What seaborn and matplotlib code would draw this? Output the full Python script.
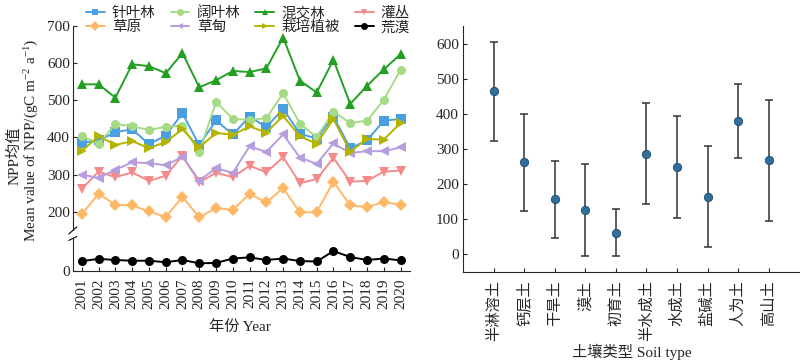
import numpy as np
import pandas as pd
import matplotlib
matplotlib.use("Agg")
import matplotlib.pyplot as plt
import seaborn as sns
from matplotlib.lines import Line2D

# === Data: NPP by vegetation type, 2001-2020 ===
years = list(range(2001, 2021))
conifer = [385, 392, 414, 422, 382, 405, 465, 379, 446, 408, 456, 428, 477, 410, 397, 456, 371, 392, 445, 450]
broadleaf = [404, 383, 436, 430, 420, 429, 431, 360, 496, 450, 447, 452, 519, 437, 401, 469, 439, 445, 501, 582]
mixed = [543, 543, 507, 597, 592, 573, 627, 535, 554, 579, 576, 586, 669, 553, 521, 609, 490, 539, 583, 624]
shrub = [262, 308, 293, 306, 283, 297, 351, 279, 305, 293, 324, 306, 347, 277, 288, 345, 281, 283, 308, 311]
steppe = [194, 248, 219, 217, 201, 186, 240, 185, 210, 205, 248, 225, 264, 198, 199, 281, 217, 213, 226, 219]
meadow = [300, 291, 313, 333, 331, 325, 348, 284, 317, 305, 376, 361, 408, 346, 329, 384, 358, 363, 363, 373]
cultivated = [364, 403, 380, 390, 371, 388, 422, 373, 412, 407, 430, 413, 458, 403, 383, 449, 362, 396, 394, 439]
desert = [27, 33, 30, 28, 28, 24, 30, 21, 22, 34, 37, 30, 34, 27, 26, 54, 38, 30, 34, 29]

veg_names = ['针叶林', '阔叶林', '混交林', '灌丛', '草原', '草甸', '栽培植被', '荒漠']
veg_colors = ['#4a9fe3', '#a6db86', '#23a023', '#f58a8a', '#ffb865', '#b69ddf', '#b4b400', '#000000']
veg_markers = ['s', 'o', '^', 'v', 'D', '<', '>', 'o']

# === Data: NPP by soil type (mean +/- sd) ===
soil_types = ['半淋溶土', '钙层土', '干旱土', '漠土', '初育土', '半水成土', '水成土', '盐碱土', '人为土', '高山土']
soil_mean = [465, 262, 157, 127, 62, 287, 249, 165, 380, 268]
soil_sd = [141, 138, 110, 130, 67, 143, 145, 145, 104, 172]

# === Long table for seaborn ===
series = [conifer, broadleaf, mixed, shrub, steppe, meadow, cultivated, desert]
rows = []
for name, vals in zip(veg_names, series):
    for y, v in zip(years, vals):
        rows.append({'Year': y, 'NPP': v, 'Type': name})
df = pd.DataFrame(rows)
palette = dict(zip(veg_names, veg_colors))
markers = dict(zip(veg_names, veg_markers))

sns.set_style("ticks")
plt.rcParams['font.family'] = ['Liberation Serif', 'Noto Sans CJK SC']
plt.rcParams['mathtext.fontset'] = 'custom'
plt.rcParams['mathtext.rm'] = 'Liberation Serif'
plt.rcParams['mathtext.it'] = 'Liberation Serif:italic'
plt.rcParams['font.size'] = 11

fig = plt.figure(figsize=(8, 3.61), dpi=100)
ax_top = fig.add_axes([0.091, 0.363, 0.421, 0.565])
ax_bot = fig.add_axes([0.091, 0.249, 0.421, 0.0914])
ax_r = fig.add_axes([0.579, 0.2465, 0.42, 0.681])

# === Left: broken-axis line chart ===
upper = df[df['Type'] != '荒漠']
lower = df[df['Type'] == '荒漠']
sns.lineplot(data=upper, x='Year', y='NPP', hue='Type', style='Type', palette=palette,
             markers=markers, dashes=False, markersize=6.5, markeredgewidth=0,
             linewidth=1.4, ax=ax_top, legend=False)
sns.lineplot(data=lower, x='Year', y='NPP', hue='Type', style='Type', palette=palette,
             markers=markers, dashes=False, markersize=6.5, markeredgewidth=0,
             linewidth=1.4, ax=ax_bot, legend=False)

xlim = (2000.46, 2020.54)
ax_top.set_xlim(*xlim)
ax_bot.set_xlim(*xlim)
ax_top.set_ylim(151, 700)
ax_bot.set_ylim(0, 89)
ax_top.set_yticks([200, 300, 400, 500, 600, 700])
ax_bot.set_yticks([0])
ax_bot.set_xticks(years)
ax_bot.set_xticklabels([str(y) for y in years], rotation=90)
ax_top.set_xticks([])
for a in (ax_top, ax_bot):
    a.set_xlabel('')
    a.set_ylabel('')
    a.tick_params(direction='in', length=3, width=0.8, labelsize=11, pad=2)
    a.spines['right'].set_visible(False)
    a.spines['top'].set_visible(False)
    a.set_facecolor('none')
ax_bot.tick_params(axis='x', pad=5)
ax_top.spines['bottom'].set_visible(False)

# break marks on the left spine
d = 0.012
kw = dict(color='k', lw=0.8, clip_on=False)
ax_top.plot([-d, d], [-0.02, 0.015], transform=ax_top.transAxes, **kw)
ax_bot.plot([-d, d], [0.93, 1.05], transform=ax_bot.transAxes, **kw)

# legend
handles = []
for n, c, m in zip(veg_names, veg_colors, veg_markers):
    handles.append(Line2D([0], [0], color=c, marker=m, markersize=5, markeredgewidth=0, lw=1.4, label=n))
order = [0, 4, 1, 5, 2, 6, 3, 7]
ax_top.legend([handles[i] for i in order], [veg_names[i] for i in order], ncol=4,
              frameon=False, fontsize=10.5, handlelength=1.3, handletextpad=0.5,
              columnspacing=1.0, labelspacing=0.05, loc='lower center',
              bbox_to_anchor=(0.52, 0.93), borderaxespad=0)

fig.text(14 / 800, 1 - 156 / 361, 'NPP均值', rotation=90, ha='center', va='center', fontsize=11)
fig.text(32 / 800, 1 - 140 / 361, 'Mean value of NPP/(gC m$^{-2}$ a$^{-1}$)', rotation=90,
         ha='center', va='center', fontsize=11)
fig.text(240 / 800, 1 - 327 / 361, '年份 Year', ha='center', va='center', fontsize=11)

# === Right: soil type ===
xpos = np.arange(len(soil_types))
ax_r.errorbar(xpos, soil_mean, yerr=soil_sd, fmt='none', ecolor='#333333', elinewidth=1.1,
              capsize=3, capthick=1.1)
sns.scatterplot(x=xpos, y=soil_mean, color='#2f6f9a', s=36, edgecolor='#1d4a6b', linewidth=0.6,
                ax=ax_r, zorder=3)
ax_r.set_xlim(-1, 10)
ax_r.set_ylim(-50, 650)
ax_r.set_yticks([0, 100, 200, 300, 400, 500, 600])
ax_r.set_xticks(xpos)
ax_r.set_xticklabels(soil_types, rotation=90)
ax_r.tick_params(direction='in', length=3, width=0.8, labelsize=11, pad=3)
ax_r.tick_params(axis='x', pad=6)
ax_r.spines['right'].set_visible(False)
ax_r.spines['top'].set_visible(False)
fig.text(632 / 800, 1 - 352 / 361, '土壤类型 Soil type', ha='center', va='center', fontsize=11)

fig.savefig('out.png', dpi=100)
